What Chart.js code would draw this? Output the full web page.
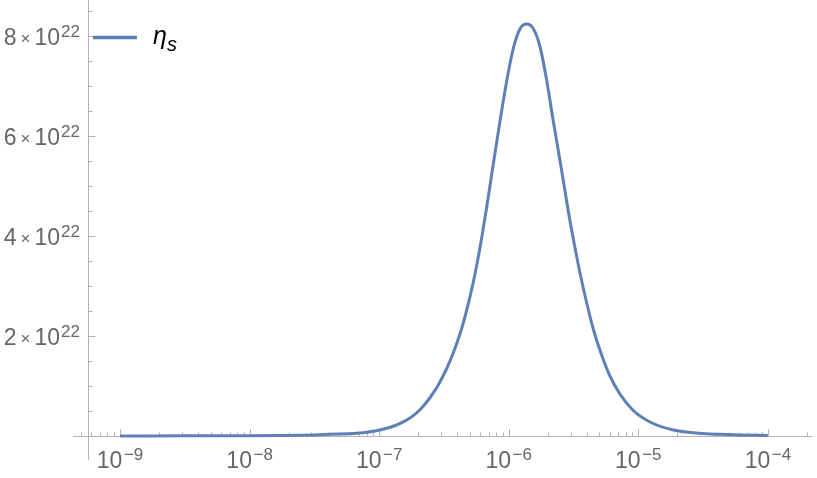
<!DOCTYPE html>
<html>
<head>
<meta charset="utf-8">
<script src="https://cdn.jsdelivr.net/npm/chart.js@4.4.1/dist/chart.umd.min.js"></script>
<style>
  html, body { margin: 0; padding: 0; background: #ffffff; }
  #wrap { width: 817px; height: 478px; }
</style>
</head>
<body>
<div id="wrap"><canvas id="c" width="817" height="478"></canvas></div>
<script>
// ---- data ----
const xValues = [1e-9, 3e-9, 1e-8, 1.72e-8, 3.14e-8, 4.17e-8, 6.70e-8, 1.014e-7, 1.364e-7, 1.729e-7,
  2.065e-7, 2.466e-7, 2.858e-7, 3.32e-7, 3.73e-7, 4.20e-7, 4.59e-7, 5.32e-7, 6.07e-7, 6.75e-7,
  7.59e-7, 8.55e-7, 9.63e-7, 1.084e-6, 1.22e-6, 1.374e-6, 1.545e-6, 1.741e-6, 1.96e-6, 2.20e-6,
  2.56e-6, 2.91e-6, 3.27e-6, 3.54e-6, 3.99e-6, 4.49e-6, 5.21e-6, 6.04e-6, 7.21e-6, 9.14e-6,
  1.23e-5, 1.86e-5, 2.99e-5, 4.26e-5, 6.08e-5, 1e-4];
const etaS = [0.002e22, 0.003e22, 0.006e22, 0.01e22, 0.02e22, 0.033e22, 0.053e22, 0.12e22, 0.22e22, 0.36e22,
  0.525e22, 0.765e22, 1.02e22, 1.35e22, 1.66e22, 2.04e22, 2.38e22, 3.07e22, 3.84e22, 4.57e22,
  5.43e22, 6.29e22, 7.09e22, 7.75e22, 8.14e22, 8.24e22, 8.15e22, 7.79e22, 7.12e22, 6.32e22,
  5.31e22, 4.43e22, 3.72e22, 3.27e22, 2.67e22, 2.14e22, 1.62e22, 1.20e22, 0.84e22, 0.51e22,
  0.28e22, 0.12e22, 0.053e22, 0.033e22, 0.02e22, 0.01e22];

const xTickValues = [1e-9, 1e-8, 1e-7, 1e-6, 1e-5, 1e-4];
const xTickLabels = ['10^\u22129', '10^\u22128', '10^\u22127', '10^\u22126', '10^\u22125', '10^\u22124'];
const yTickValues = [2e22, 4e22, 6e22, 8e22];
const yTickLabels = ['2\u00D710^22', '4\u00D710^22', '6\u00D710^22', '8\u00D710^22'];
const yMinorStep = 0.5e22;
const seriesLabel = '\u03B7_s';

// axis ranges
const xMin = 5.66e-10, xMax = 2.19e-4;
const yMin = 0, yMax = 8.72e22;
const xLineStart = 4.34e-10;   // x axis line extends a bit left of the y axis
const yLineStart = -0.48e22;   // y axis line extends a bit below the x axis

const lineColor = '#5E81B5';
const axisColor = '#b3b3b3';
const labelColor = '#666666';
const FONT = '"Liberation Sans", Arial, "DejaVu Sans", sans-serif';

function drawPowerLabel(ctx, text, anchorX, baseY, align) {
  // text like "8×10^22" or "10^−9": main part, optional ×, and raised exponent
  const [main, sup] = text.split('^');
  const pieces = [];
  if (main.indexOf('\u00D7') >= 0) {
    const [a, b] = main.split('\u00D7');
    pieces.push({ t: a, f: '23px ' + FONT, dy: 0, gap: 4 });
    pieces.push({ t: '\u00D7', f: '17px ' + FONT, dy: -1, gap: 4 });
    pieces.push({ t: b, f: '23px ' + FONT, dy: 0, gap: 1 });
  } else {
    pieces.push({ t: main, f: '23px ' + FONT, dy: 0, gap: 1.5 });
  }
  pieces.push({ t: sup, f: '17px ' + FONT, dy: -8, gap: 0 });
  let total = 0;
  for (const p of pieces) { ctx.font = p.f; p.w = ctx.measureText(p.t).width; total += p.w + p.gap; }
  let x = align === 'right' ? anchorX - total : anchorX - total / 2;
  ctx.textAlign = 'left';
  ctx.textBaseline = 'alphabetic';
  for (const p of pieces) {
    ctx.font = p.f;
    ctx.fillText(p.t, x, baseY + p.dy);
    x += p.w + p.gap;
  }
}

const axesPlugin = {
  id: 'mmaAxes',
  beforeDatasetsDraw(chart) {
    const ctx = chart.ctx;
    const xs = chart.scales.x, ys = chart.scales.y;
    const x0 = xs.getPixelForValue(xLineStart), x1 = xs.getPixelForValue(xMax);
    const yAxisX = Math.round(xs.getPixelForValue(xMin)) + 0.5;
    const xAxisY = Math.round(ys.getPixelForValue(0)) + 0.5;
    const yb = ys.getPixelForValue(yLineStart), yt = ys.getPixelForValue(yMax);
    ctx.save();
    ctx.strokeStyle = axisColor;
    ctx.lineWidth = 1;
    ctx.beginPath();
    ctx.moveTo(x0, xAxisY); ctx.lineTo(x1, xAxisY);
    ctx.moveTo(yAxisX, yb); ctx.lineTo(yAxisX, yt);
    // x ticks (major decades and minor 2..9)
    for (let d = -10; d <= -3; d++) {
      for (let k = 1; k <= 9; k++) {
        const v = k * Math.pow(10, d);
        if (v < xLineStart || v > xMax) continue;
        const px = Math.round(xs.getPixelForValue(v)) + 0.5;
        const len = (k === 1) ? 7 : 4;
        ctx.moveTo(px, xAxisY); ctx.lineTo(px, xAxisY - len);
      }
    }
    // y ticks
    for (let v = yMinorStep; v <= yMax; v += yMinorStep) {
      const py = Math.round(ys.getPixelForValue(v)) + 0.5;
      const major = yTickValues.some(t => Math.abs(t - v) < 1e18);
      const len = major ? 7 : 4;
      ctx.moveTo(yAxisX, py); ctx.lineTo(yAxisX + len, py);
    }
    ctx.stroke();
    // tick labels
    ctx.fillStyle = labelColor;
    xTickValues.forEach((v, i) => {
      drawPowerLabel(ctx, xTickLabels[i], xs.getPixelForValue(v), xAxisY + 31, 'center');
    });
    yTickValues.forEach((v, i) => {
      drawPowerLabel(ctx, yTickLabels[i], yAxisX - 8.5, ys.getPixelForValue(v) + 8.5, 'right');
    });
    ctx.restore();
  },
  afterDraw(chart) {
    // legend inside plot area
    const ctx = chart.ctx;
    const area = chart.chartArea;
    const ds = chart.data.datasets[0];
    const lx = area.left + 5, ly = area.top + 37.5;
    ctx.save();
    ctx.strokeStyle = ds.borderColor;
    ctx.lineWidth = 3.5;
    ctx.beginPath();
    ctx.moveTo(lx, ly); ctx.lineTo(lx + 44, ly);
    ctx.stroke();
    const parts = ds.label.split('_');
    ctx.fillStyle = '#000000';
    ctx.textAlign = 'left';
    ctx.textBaseline = 'alphabetic';
    ctx.font = 'italic 25px ' + FONT;
    const tx = lx + 60;
    ctx.fillText(parts[0], tx, ly + 6);
    const w = ctx.measureText(parts[0]).width;
    ctx.font = 'italic 20px ' + FONT;
    ctx.fillText(parts[1], tx + w, ly + 13);
    ctx.restore();
  }
};

const points = xValues.map((x, i) => ({ x: x, y: etaS[i] }));

function zeroPad(s) { s.paddingTop = 0; s.paddingBottom = 0; s.paddingLeft = 0; s.paddingRight = 0; }

new Chart(document.getElementById('c'), {
  type: 'line',
  data: {
    datasets: [{
      label: seriesLabel,
      data: points,
      borderColor: lineColor,
      backgroundColor: lineColor,
      borderWidth: 3,
      pointRadius: 0,
      fill: false,
      cubicInterpolationMode: 'monotone',
      clip: false
    }]
  },
  options: {
    responsive: false,
    animation: false,
    devicePixelRatio: 1,
    layout: { padding: { left: 0, right: 5, top: 0, bottom: 0 }, autoPadding: false },
    plugins: { legend: { display: false }, tooltip: { enabled: false }, title: { display: false } },
    scales: {
      x: {
        type: 'logarithmic',
        position: 'bottom',
        min: xMin, max: xMax,
        afterFit(s) { s.height = 42; zeroPad(s); },
        afterBuildTicks(s) { s.ticks = xTickValues.map(v => ({ value: v, major: true })); },
        grid: { display: false, drawTicks: false },
        border: { display: false },
        ticks: { display: false, callback(value, index) { return xTickLabels[index]; } }
      },
      y: {
        type: 'linear',
        position: 'left',
        min: yMin, max: yMax,
        afterFit(s) { s.width = 88; zeroPad(s); },
        afterBuildTicks(s) { s.ticks = yTickValues.map(v => ({ value: v })); },
        grid: { display: false, drawTicks: false },
        border: { display: false },
        ticks: { display: false, callback(value, index) { return yTickLabels[index]; } }
      }
    }
  },
  plugins: [axesPlugin]
});
</script>
</body>
</html>
